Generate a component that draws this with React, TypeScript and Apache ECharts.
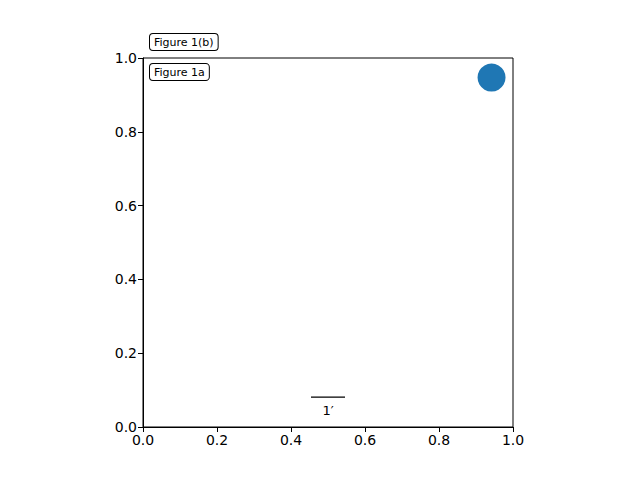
import React, { useEffect, useRef } from "react";
import * as echarts from "echarts";

const xTicks = [0, 0.2, 0.4, 0.6, 0.8, 1.0];
const yTicks = [0, 0.2, 0.4, 0.6, 0.8, 1.0];
const circlePoint = [[0.942, 0.947]];
const scaleBar = [[0.454, 0.081], [0.546, 0.081]];
const scaleLabel = "1′";
const scaleLabelPos = [[0.5, 0.045]];
const boxLabels = ["Figure 1(b)", "Figure 1a"];

export default function App() {
  const ref = useRef<HTMLDivElement>(null);
  useEffect(() => {
    if (!ref.current) return;
    const chart = echarts.init(ref.current, null, { renderer: "svg" });
    const font = "DejaVu Sans";
    const axisCommon = {
      type: "value" as const,
      interval: 0.2,
      axisLine: { show: true, lineStyle: { color: "#000", width: 1 } },
      axisTick: { show: true, inside: false, length: 5, lineStyle: { color: "#000", width: 1 } },
      axisLabel: {
        color: "#000",
        fontFamily: font,
        fontSize: 14,
        margin: 6,
        formatter: (v: number) => v.toFixed(1),
      },
      splitLine: { show: false },
    };
    chart.setOption({
      animation: false,
      backgroundColor: "#fff",
      grid: {
        left: 143,
        top: 58,
        width: 370,
        height: 369,
        show: true,
        borderColor: "#000",
        borderWidth: 1,
        backgroundColor: "transparent",
      },
      xAxis: { ...axisCommon, min: xTicks[0], max: xTicks[xTicks.length - 1] },
      yAxis: { ...axisCommon, min: yTicks[0], max: yTicks[yTicks.length - 1] },
      series: [
        {
          type: "scatter",
          data: circlePoint,
          symbolSize: 28,
          itemStyle: { color: "#1f77b4", opacity: 1 },
        },
        {
          type: "line",
          data: scaleBar,
          showSymbol: false,
          symbol: "none",
          lineStyle: { color: "#000", width: 1.2 },
        },
        {
          type: "scatter",
          data: scaleLabelPos,
          symbolSize: 0,
          itemStyle: { color: "#000" },
          label: {
            show: true,
            position: "inside",
            formatter: scaleLabel,
            color: "#000",
            textBorderWidth: 0,
            opacity: 1,
            fontFamily: font,
            fontSize: 13,
          },
        },
      ],
      graphic: [
        {
          type: "text",
          left: 149,
          top: 33,
          style: {
            text: boxLabels[0],
            fontFamily: font,
            fontSize: 11,
            fill: "#000",
            backgroundColor: "#fff",
            borderColor: "#000",
            borderWidth: 1,
            borderRadius: 3,
            padding: [3, 4, 2, 4],
          },
        },
        {
          type: "text",
          left: 149,
          top: 63,
          style: {
            text: boxLabels[1],
            fontFamily: font,
            fontSize: 11,
            fill: "#000",
            backgroundColor: "#fff",
            borderColor: "#000",
            borderWidth: 1,
            borderRadius: 3,
            padding: [3, 4, 2, 4],
          },
        },
      ],
    });
    return () => chart.dispose();
  }, []);
  return <div ref={ref} style={{ width: 640, height: 480, position: "absolute", left: 0, top: 0 }} />;
}
